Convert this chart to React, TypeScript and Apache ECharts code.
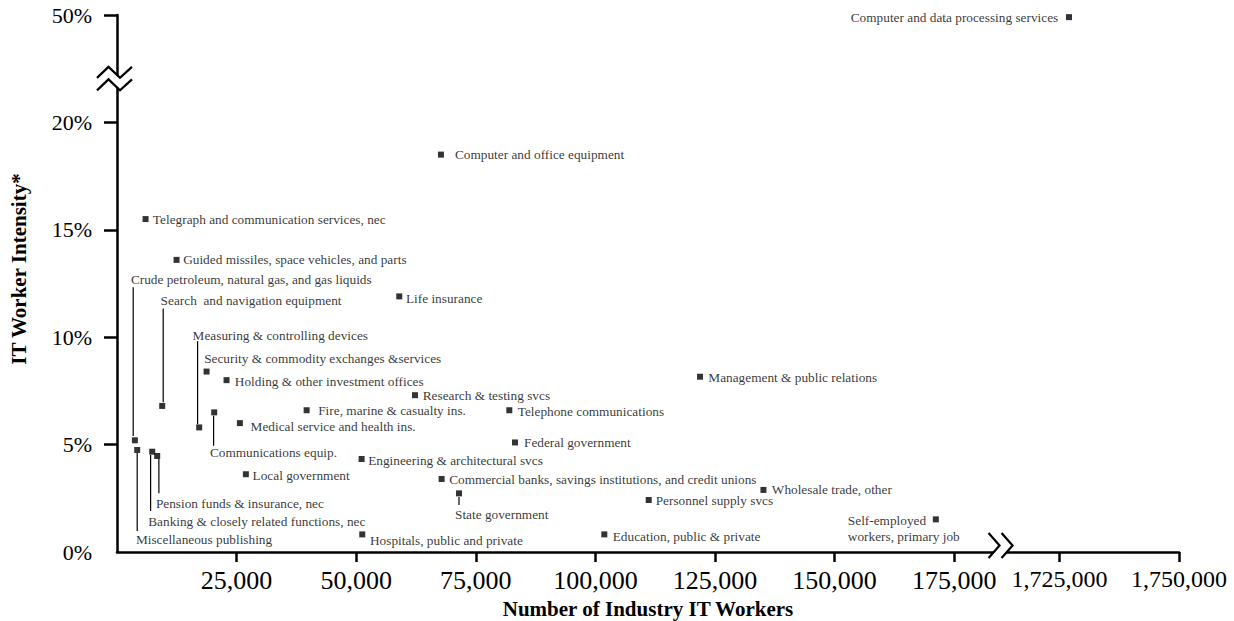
import React, { useEffect, useRef } from "react";
import * as echarts from "echarts";

// ---------- data ----------
const industries: string[] = [
  "Computer and data processing services",
  "Computer and office equipment",
  "Telegraph and communication services, nec",
  "Guided missiles, space vehicles, and parts",
  "Life insurance",
  "Crude petroleum, natural gas, and gas liquids",
  "Search  and navigation equipment",
  "Measuring & controlling devices",
  "Security & commodity exchanges &services",
  "Holding & other investment offices",
  "Communications equip.",
  "Medical service and health ins.",
  "Fire, marine & casualty ins.",
  "Research & testing svcs",
  "Telephone communications",
  "Federal government",
  "Miscellaneous publishing",
  "Banking & closely related functions, nec",
  "Pension funds & insurance, nec",
  "Local government",
  "Engineering & architectural svcs",
  "Commercial banks, savings institutions, and credit unions",
  "State government",
  "Hospitals, public and private",
  "Education, public & private",
  "Personnel supply svcs",
  "Wholesale trade, other",
  "Management & public relations",
  "Self-employed\nworkers, primary job",
];

const itWorkers: number[] = [
  1727000, 67720, 5970, 12450, 59000, 3740, 9450, 17180, 18720, 22900, 20320,
  25690, 39640, 62290, 82010, 83200, 4220, 7360, 8400, 26940, 51130, 67860,
  71490, 51270, 101870, 111150, 135130, 121880, 171170,
];

const intensity: number[] = [
  49.9, 18.5, 15.5, 13.6, 11.9, 5.2, 6.8, 5.8, 8.4, 8.0, 6.5, 6.0, 6.6, 7.3,
  6.6, 5.1, 4.75, 4.67, 4.47, 3.62, 4.33, 3.4, 2.73, 0.82, 0.82, 2.42, 2.89,
  8.16, 1.52,
];

const xTickValues: number[] = [
  25000, 50000, 75000, 100000, 125000, 150000, 175000, 1725000, 1750000,
];
const yTickValues: number[] = [0, 5, 10, 15, 20, 50];

// ---------- axis breaks ----------
const X_BREAK_SHIFT = 1528000;
const Y_BREAK_SHIFT = 25;
const toX = (v: number) => (v > 1000000 ? v - X_BREAK_SHIFT : v);
const toY = (v: number) => (v > 30 ? v - Y_BREAK_SHIFT : v);
const fromX = (d: number) => (d > 185000 ? d + X_BREAK_SHIFT : d);
const fromY = (d: number) => (d > 22.5 ? d + Y_BREAK_SHIFT : d);
const X_BREAK_AT = 184700; // display units
const Y_BREAK_AT = 22.05;

// ---------- label layout (pixel offsets from marker) ----------
type Lay = { dx: number; dy: number; align?: "left" | "right"; lead?: [number, number, number] };
const layouts: Lay[] = [
  { dx: -10.7, dy: 0, align: "right" },
  { dx: 14, dy: 0 },
  { dx: 7.3, dy: 0 },
  { dx: 6.6, dy: 0 },
  { dx: 6.7, dy: 2 },
  { dx: -4, dy: -161, lead: [-1.7, -153, -4.3] },
  { dx: -1.6, dy: -105, lead: [1, -97.4, -3.7] },
  { dx: -6.6, dy: -92.3, lead: [-1.6, -86.3, -3.3] },
  { dx: -2.4, dy: -13.4 },
  { dx: 8.3, dy: 1.7 },
  { dx: -4.3, dy: 40, lead: [-0.6, 3.3, 33.3] },
  { dx: 10.7, dy: 3.4 },
  { dx: 11.6, dy: 0.7 },
  { dx: 7.7, dy: 0 },
  { dx: 8.4, dy: 1.7 },
  { dx: 9, dy: 0 },
  { dx: -1.3, dy: 90, lead: [0, 3, 81] },
  { dx: -4, dy: 70, lead: [-1.6, 3.3, 59.3] },
  { dx: -1.3, dy: 48, lead: [1.7, 3, 37.3] },
  { dx: 6.7, dy: 1.7 },
  { dx: 6.6, dy: 1.7 },
  { dx: 7.6, dy: 1 },
  { dx: -4, dy: 20.7, lead: [0, 3.7, 11.7] },
  { dx: 7.7, dy: 5.7 },
  { dx: 8.4, dy: 2.4 },
  { dx: 7, dy: 0 },
  { dx: 8.4, dy: 0 },
  { dx: 8.3, dy: 0.6 },
  { dx: -88, dy: 8.7 },
];

const FONT = "'Liberation Serif', 'Times New Roman', serif";
const fmtNum = (v: number) => Math.round(v).toLocaleString("en-US");

export default function App() {
  const ref = useRef<HTMLDivElement>(null);

  useEffect(() => {
    if (!ref.current) return;
    const chart = echarts.init(ref.current, undefined, { renderer: "svg" });

    const scatterData = industries.map((name, i) => {
      const L = layouts[i];
      return {
        name,
        value: [toX(itWorkers[i]), toY(intensity[i])],
        label: {
          show: true,
          position: "inside",
          align: L.align || "left",
          verticalAlign: "middle",
          offset: [L.dx, L.dy],
          color: "#000",
          fontSize: 13.3,
          lineHeight: 16,
          fontFamily: FONT,
          formatter: name,
        },
      };
    });

    const leaderData: number[][] = [];
    industries.forEach((_, i) => {
      if (layouts[i].lead) leaderData.push([toX(itWorkers[i]), toY(intensity[i]), i]);
    });

    const xDisplayTicks = xTickValues.map(toX);
    const yDisplayTicks = yTickValues.map(toY);

    chart.setOption({
      animation: false,
      backgroundColor: "#fff",
      grid: { left: 117, right: 55, top: 15, bottom: 69, containLabel: false, outerBoundsMode: "none" },
      xAxis: {
        type: "value",
        min: 0,
        max: toX(1750000),
        splitLine: { show: false },
        axisLine: { show: true, onZero: false, lineStyle: { color: "#000", width: 2.5 } },
        axisTick: { show: true, length: 10, customValues: xDisplayTicks, lineStyle: { color: "#000", width: 2.5 } },
        axisLabel: {
          show: true,
          customValues: xDisplayTicks,
          margin: 15,
          color: "#000",
          fontFamily: FONT,
          fontSize: 26,
          formatter: (d: number) => {
            const v = fromX(d);
            return v > 1000000 ? "{b|" + fmtNum(v) + "}" : fmtNum(v);
          },
          rich: { b: { fontSize: 24, fontFamily: FONT, color: "#000" } },
        },
        name: "Number of Industry IT Workers",
        nameLocation: "middle",
        nameGap: 46,
        nameTextStyle: { fontFamily: FONT, fontWeight: "bold", fontSize: 21, color: "#000" },
      },
      yAxis: {
        type: "value",
        min: 0,
        max: 25,
        splitLine: { show: false },
        axisLine: { show: true, onZero: false, lineStyle: { color: "#000", width: 2.5 } },
        axisTick: { show: true, length: 13, customValues: yDisplayTicks.filter((v) => v > 0), lineStyle: { color: "#000", width: 2.5 } },
        axisLabel: {
          show: true,
          customValues: yDisplayTicks,
          margin: 25,
          padding: [6, 0, 0, 0],
          color: "#000",
          fontFamily: FONT,
          fontSize: 22,
          formatter: (d: number) => Math.round(fromY(d)) + "%",
        },
      },
      series: [
        {
          type: "custom",
          silent: true,
          data: leaderData,
          renderItem: (params: any, api: any) => {
            const p = api.coord([api.value(0), api.value(1)]);
            const lead = layouts[api.value(2)].lead as [number, number, number];
            return {
              type: "line",
              shape: { x1: p[0] + lead[0], y1: p[1] + lead[1], x2: p[0] + lead[0], y2: p[1] + lead[2] },
              style: { stroke: "#000", lineWidth: 1.2 },
            };
          },
          z: 3,
        },
        {
          type: "scatter",
          symbol: "rect",
          symbolSize: 6,
          itemStyle: { color: "#000" },
          silent: true,
          data: scatterData,
          z: 4,
        },
      ],
    });

    const xb = chart.convertToPixel({ gridIndex: 0 }, [X_BREAK_AT, 0]) as number[];
    const yb = chart.convertToPixel({ gridIndex: 0 }, [0, Y_BREAK_AT]) as number[];
    const bx = xb[0];
    const ay = xb[1];
    const axx = yb[0];
    const by = yb[1];
    const zig = (cy: number) => [
      [axx - 20, cy + 5.5],
      [axx - 8.5, cy - 5.5],
      [axx + 3, cy + 5.5],
      [axx + 15, cy - 5.5],
    ];
    const chev = (x0: number) => [
      [x0, ay - 19],
      [x0 + 11, ay - 6.5],
      [x0, ay + 6],
    ];
    const lineStyle = { stroke: "#000", lineWidth: 2.2, fill: null };

    chart.setOption({
      graphic: [
        { type: "rect", z: 100, shape: { x: axx - 3, y: by - 3, width: 6, height: 12 }, style: { fill: "#fff" } },
        { type: "polyline", z: 101, shape: { points: zig(by - 6) }, style: lineStyle },
        { type: "polyline", z: 101, shape: { points: zig(by + 6.5) }, style: lineStyle },
        { type: "rect", z: 100, shape: { x: bx - 7, y: ay - 4, width: 13, height: 8 }, style: { fill: "#fff" } },
        { type: "polyline", z: 101, shape: { points: chev(bx - 12) }, style: lineStyle },
        { type: "polyline", z: 101, shape: { points: chev(bx + 1) }, style: lineStyle },
        {
          type: "text",
          z: 101,
          x: 19,
          y: 269,
          rotation: Math.PI / 2,
          style: {
            text: "IT Worker Intensity*",
            fontFamily: FONT,
            fontWeight: "bold",
            fontSize: 21,
            fill: "#000",
            align: "center",
            verticalAlign: "middle",
          },
        },
      ],
    });

    return () => {
      chart.dispose();
    };
  }, []);

  return (
    <div
      ref={ref}
      style={{ position: "fixed", left: 0, top: 0, width: 1234, height: 621, background: "#fff" }}
    />
  );
}
